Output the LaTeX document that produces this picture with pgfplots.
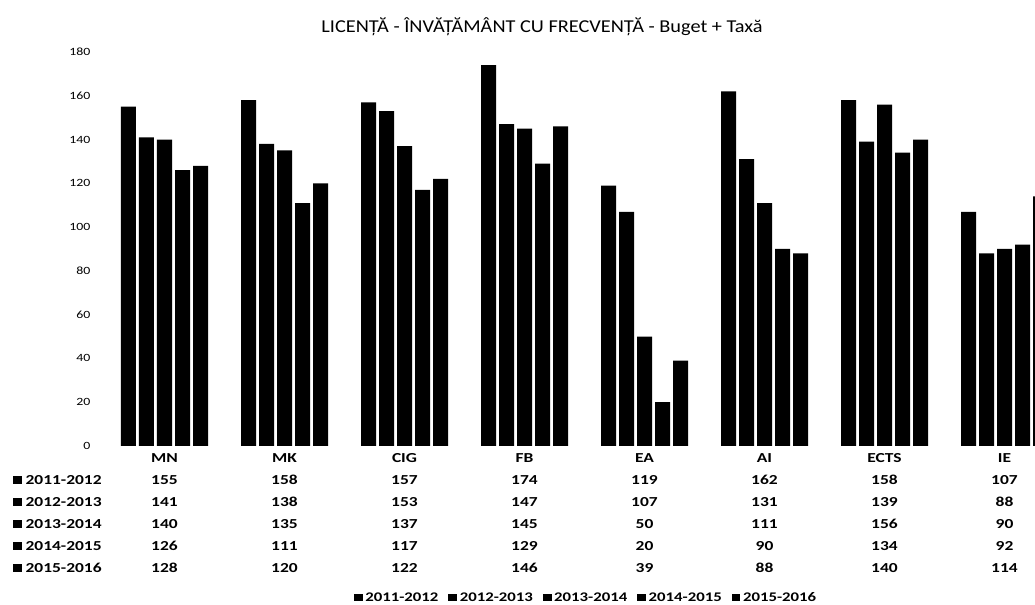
\documentclass[border=0pt]{standalone}
\usepackage{fontspec}
\setmainfont{Carlito}
\newfontfamily\wideA{Carlito}[FakeStretch=1.27]
\newfontfamily\wideB{Carlito}[FakeStretch=1.12]
\newfontfamily\wideC{Carlito}[FakeStretch=1.25]
\usepackage{pgfplots}
\pgfplotsset{compat=1.18}
\usepackage{pgfplotstable}

\pgfplotstableread{
x a b c d e
0 155 141 140 126 128
1 158 138 135 111 120
2 157 153 137 117 122
3 174 147 145 129 146
4 119 107 50 20 39
5 162 131 111 90 88
6 158 139 156 134 140
7 107 88 90 92 114
}\data

\newcommand{\tabfont}{\wideA\bfseries\fontsize{10.3}{16.5}\selectfont}
\newcommand{\key}{\raisebox{0.3pt}{\rule{6.5pt}{5.5pt}}\hspace{3pt}}

\begin{document}
\begin{tikzpicture}[x=1pt,y=1pt]
\useasboundingbox (0,0) rectangle (776.25,453.75);
\begin{axis}[
  at={(78.375pt,119.25pt)}, anchor=south west,
  scale only axis, width=720pt, height=295.5pt,
  xmin=-0.5, xmax=7.5, ymin=0, ymax=180,
  ybar=2.25pt, bar width=11.25pt,
  axis line style={draw=none}, major tick length=0pt,
  ytick={0,20,...,180},
  yticklabel style={font=\wideC\fontsize{8.3}{9}\selectfont, xshift=-7pt},
  /pgf/number format/assume math mode=true,
  xtick={0,...,7},
  xticklabels={{MN\\155\\141\\140\\126\\128},
               {MK\\158\\138\\135\\111\\120},
               {CIG\\157\\153\\137\\117\\122},
               {FB\\174\\147\\145\\129\\146},
               {EA\\119\\107\\50\\20\\39},
               {AI\\162\\131\\111\\90\\88},
               {ECTS\\158\\139\\156\\134\\140},
               {IE\\107\\88\\90\\92\\114}},
  xticklabel style={align=center, font=\tabfont, yshift=-2pt},
  clip=false,
  legend columns=5,
  legend style={at={(0.502,-0.385)}, anchor=center, draw=none,
    font=\wideA\bfseries\fontsize{9.9}{12}\selectfont,
    /tikz/every even column/.append style={column sep=5.5pt}},
  legend image code/.code={\fill[black] (0pt,-2.8pt) rectangle (6.5pt,2.8pt);},
]
\addplot[fill=black, draw=none] table[x=x,y=a]{\data};
\addplot[fill=black, draw=none] table[x=x,y=b]{\data};
\addplot[fill=black, draw=none] table[x=x,y=c]{\data};
\addplot[fill=black, draw=none] table[x=x,y=d]{\data};
\addplot[fill=black, draw=none] table[x=x,y=e]{\data};
\legend{2011-2012,2012-2013,2013-2014,2014-2015,2015-2016}
\end{axis}
\node[anchor=north west, align=left, font=\tabfont, inner sep=0pt] at (9.5,114)
  {\phantom{MN}\\\key 2011-2012\\\key 2012-2013\\\key 2013-2014\\\key 2014-2015\\\key 2015-2016};
\node[font=\wideB\fontsize{13.6}{15}\selectfont] at (406.5,433.5)
  {LICENȚĂ - ÎNVĂȚĂMÂNT CU FRECVENȚĂ - Buget + Taxă};
\end{tikzpicture}
\end{document}
